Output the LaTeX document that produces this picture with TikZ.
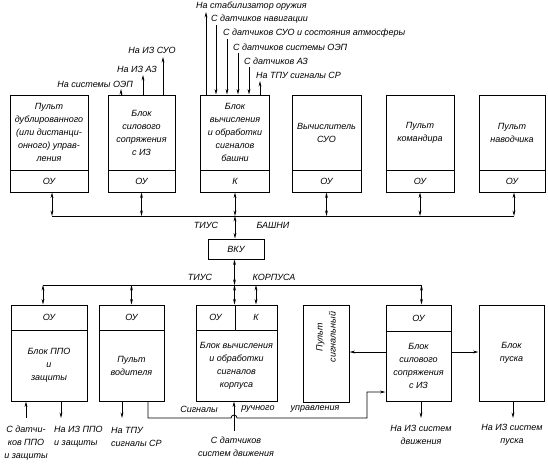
\documentclass[tikz,border=0pt]{standalone}
\usepackage{fontspec}
\setmainfont{Liberation Sans}
\usetikzlibrary{arrows.meta}

\begin{document}
\begin{tikzpicture}[x=1pt, y=1pt,
	font=\fontsize{9}{13}\selectfont\itshape,
	blk/.style={draw, rectangle, line width=1pt, align=center, inner sep=1pt},
	lbl/.style={inner sep=1pt, align=center},
	arr/.style={-{Stealth[length=5.5pt,width=2.8pt]}, line width=0.8pt},
	biarr/.style={{Stealth[length=5.5pt,width=2.8pt]}-{Stealth[length=5.5pt,width=2.8pt]}, line width=0.8pt},
	bus/.style={line width=0.8pt}]

	\useasboundingbox (0,0) rectangle (548,-467);

	% Turret blocks
	\node[blk, minimum width=78pt, minimum height=75pt] (pdu) at (49,-132.5) {Пульт\\дублированного\\(или дистанци-\\онного) управ-\\ления};
	\node[blk, minimum width=78pt, minimum height=22pt] (pduOU) at (49,-181) {ОУ};

	\node[blk, minimum width=67pt, minimum height=75pt] (silT) at (141.5,-132.5) {Блок\\силового\\сопряжения\\с ИЗ};
	\node[blk, minimum width=67pt, minimum height=22pt] (silTOU) at (141.5,-181) {ОУ};

	\node[blk, minimum width=69pt, minimum height=75pt] (vybT) at (235,-132.5) {Блок\\вычисления\\и обработки\\сигналов\\башни};
	\node[blk, minimum width=69pt, minimum height=22pt] (vybTK) at (235,-181) {К};

	\node[blk, minimum width=69pt, minimum height=75pt] (suo) at (326.5,-132.5) {Вычислитель\\СУО};
	\node[blk, minimum width=69pt, minimum height=22pt] (suoOU) at (326.5,-181) {ОУ};

	\node[blk, minimum width=68pt, minimum height=75pt] (kom) at (420,-132.5) {Пульт\\командира};
	\node[blk, minimum width=68pt, minimum height=22pt] (komOU) at (420,-181) {ОУ};

	\node[blk, minimum width=66pt, minimum height=75pt] (nav) at (512,-132.5) {Пульт\\наводчика};
	\node[blk, minimum width=66pt, minimum height=22pt] (navOU) at (512,-181) {ОУ};

	% Outputs of the turret power block
	\node[lbl, anchor=east] (lOEP) at (134,-84) {На системы ОЭП};
	\node[lbl] (lAZ) at (137,-69) {На ИЗ АЗ};
	\node[lbl] (lSUO) at (152,-50) {На ИЗ СУО};
	\coordinate (oepT) at (121,-89);
	\coordinate (azT) at (143,-75);
	\coordinate (suoT) at (163,-57);
	\draw[arr] (silT.north -| oepT) -- (oepT);
	\draw[arr] (silT.north -| azT) -- (azT);
	\draw[arr] (silT.north -| suoT) -- (suoT);

	% Inputs and outputs of the turret computing block
	\node[lbl, anchor=west] (lStab) at (195,-6) {На стабилизатор оружия};
	\node[lbl, anchor=west] (lNav) at (210,-19) {С датчиков навигации};
	\node[lbl, anchor=west] (lAtm) at (222,-33) {С датчиков СУО и состояния атмосферы};
	\node[lbl, anchor=west] (lOEPs) at (232,-47) {С датчиков системы ОЭП};
	\node[lbl, anchor=west] (lAZs) at (243,-61) {С датчиков АЗ};
	\node[lbl, anchor=west] (lTPU) at (255,-75) {На ТПУ сигналы СР};
	\coordinate (stabT) at (206,-12);
	\coordinate (navS) at (216,-25);
	\coordinate (atmS) at (227,-39);
	\coordinate (oepS) at (238,-53);
	\coordinate (azS) at (249,-67);
	\coordinate (tpuT) at (260,-81);
	\draw[arr] (vybT.north -| stabT) -- (stabT);
	\draw[arr] (navS) -- (vybT.north -| navS);
	\draw[arr] (atmS) -- (vybT.north -| atmS);
	\draw[arr] (oepS) -- (vybT.north -| oepS);
	\draw[arr] (azS) -- (vybT.north -| azS);
	\draw[arr] (vybT.north -| tpuT) -- (tpuT);

	% Turret bus
	\coordinate (busT) at (0,-216);
	\draw[bus] ([xshift=3pt]pduOU.south |- busT) -- ([xshift=2pt]navOU.south |- busT);
	\draw[biarr] ([xshift=3pt]pduOU.south) -- ([xshift=3pt]pduOU.south |- busT);
	\draw[biarr] (silTOU.south) -- (silTOU.south |- busT);
	\draw[biarr] (vybTK.south) -- (vybTK.south |- busT);
	\draw[biarr] (suoOU.south) -- (suoOU.south |- busT);
	\draw[biarr] (komOU.south) -- (komOU.south |- busT);
	\draw[biarr] ([xshift=2pt]navOU.south) -- ([xshift=2pt]navOU.south |- busT);
	\node[lbl] (lTiusT) at (206,-225) {ТИУС};
	\node[lbl] (lBash) at (273,-225) {БАШНИ};

	% Interface unit
	\node[blk, minimum width=56pt, minimum height=20pt] (vku) at (236,-249) {ВКУ};
	\draw[biarr] (vybTK.south |- busT) -- (vybTK.south |- vku.north);

	% Hull blocks
	\node[blk, minimum width=76pt, minimum height=25pt] (ppoOU) at (49,-317.5) {ОУ};
	\node[blk, minimum width=76pt, minimum height=71pt] (ppo) at (49,-365.5) {Блок ППО\\и\\защиты};

	\node[blk, minimum width=65pt, minimum height=25pt] (vodOU) at (131.5,-317.5) {ОУ};
	\node[blk, minimum width=65pt, minimum height=71pt] (vod) at (131.5,-365.5) {Пульт\\водителя};

	\node[blk, minimum width=39pt, minimum height=25pt] (korOU) at (215.5,-317.5) {ОУ};
	\node[blk, minimum width=42pt, minimum height=25pt] (korK) at (256,-317.5) {К};
	\node[blk, minimum width=81pt, minimum height=71pt] (kor) at (236.5,-365.5) {Блок вычисления\\и обработки\\сигналов\\корпуса};

	\node[blk, minimum width=46pt, minimum height=97pt] (sig) at (326,-353.5) {};
	\node[lbl, rotate=90] (sigTxt) at (326,-337) {Пульт\\сигнальный};

	\node[blk, minimum width=65pt, minimum height=26pt] (silBOU) at (418.5,-318) {ОУ};
	\node[blk, minimum width=65pt, minimum height=70pt] (silB) at (418.5,-366) {Блок\\силового\\сопряжения\\с ИЗ};

	\node[blk, minimum width=65pt, minimum height=96pt] (pusk) at (511.5,-353) {Блок\\пуска};

	% Hull bus
	\coordinate (busB) at (0,-285);
	\draw[bus] ([xshift=-6pt]ppoOU.north |- busB) -- ([xshift=3pt]silBOU.north |- busB);
	\draw[biarr] ([xshift=-6pt]ppoOU.north |- busB) -- ([xshift=-6pt]ppoOU.north);
	\draw[biarr] (vodOU.north |- busB) -- (vodOU.north);
	\draw[biarr] (vku.south -| korK.north west) -- (busB -| korK.north west);
	\draw[biarr] (busB -| korK.north west) -- (korK.north west);
	\draw[biarr] (korK.north |- busB) -- (korK.north);
	\draw[biarr] ([xshift=3pt]silBOU.north |- busB) -- ([xshift=3pt]silBOU.north);
	\node[lbl] (lTiusB) at (200,-277) {ТИУС};
	\node[lbl] (lKorp) at (274,-277) {КОРПУСА};

	% Links inside the hull
	\coordinate (hArr) at (0,-352);
	\draw[arr] (silB.west |- hArr) -- (sig.east |- hArr);
	\draw[arr] (silB.east |- hArr) -- (pusk.west |- hArr);

	% Manual control signals
	\coordinate (dvizh) at (234,-431);
	\coordinate (sigY) at (0,-418);
	\coordinate (sigX) at (367,-392);
	\draw[arr] ([xshift=16.5pt]vod.south) -- ([xshift=16.5pt]vod.south |- sigY) -- ([xshift=-3pt]dvizh |- sigY)
		arc[start angle=180, end angle=0, radius=3pt] -- (sigX |- sigY) -- (sigX) -- (silB.west |- sigX);
	\node[lbl] (lSig) at (199,-409) {Сигналы};
	\node[lbl] (lRuch) at (258,-409) {ручного};
	\node[lbl] (lUpr) at (315,-409) {управления};
	\draw[arr] (dvizh) -- (dvizh |- kor.south);
	\node[lbl] (lDvizh) at (236,-447) {С датчиков\\систем движения};

	% Hull inputs and outputs
	\coordinate (ppoIn) at (26,-418);
	\coordinate (ppoOut) at (61,-418);
	\coordinate (vodOut) at (122,-418);
	\coordinate (silOut) at (421,-418);
	\coordinate (puskOut) at (513,-418);
	\draw[arr] (ppoIn) -- (ppoIn |- ppo.south);
	\draw[arr] (ppo.south -| ppoOut) -- (ppoOut);
	\draw[arr] (vod.south -| vodOut) -- (vodOut);
	\draw[arr] (silB.south -| silOut) -- (silOut);
	\draw[arr] (pusk.south -| puskOut) -- (puskOut);
	\node[lbl] (lPPOin) at (26,-443) {С датчи-\\ков ППО\\и защиты};
	\node[lbl, anchor=west, align=left] (lPPOout) at (53,-436.5) {На ИЗ ППО\\и защиты};
	\node[lbl, anchor=west, align=left] (lVod) at (110,-436.5) {На ТПУ\\сигналы СР};
	\node[lbl] (lSilOut) at (421,-435) {На ИЗ систем\\движения};
	\node[lbl] (lPuskOut) at (512,-435) {На ИЗ систем\\пуска};
\end{tikzpicture}
\end{document}
